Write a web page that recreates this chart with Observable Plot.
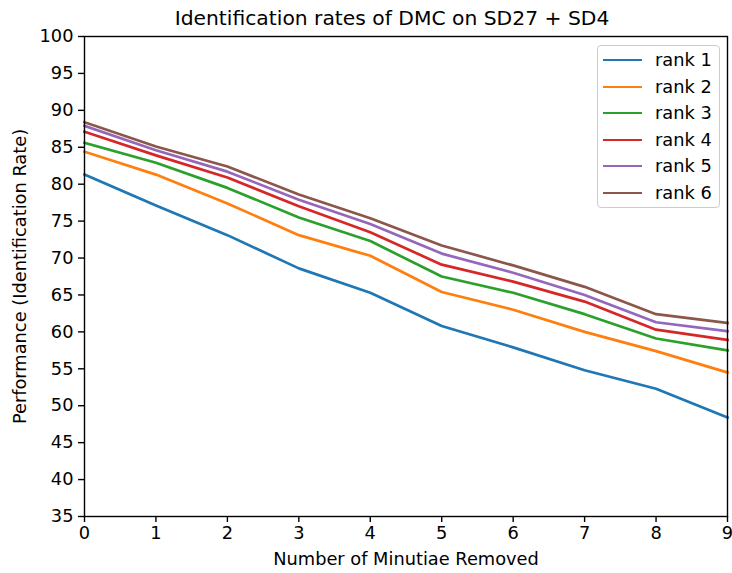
<!DOCTYPE html>
<html>
<head>
<meta charset="utf-8">
<script src="https://cdn.jsdelivr.net/npm/d3@7"></script>
<script src="https://cdn.jsdelivr.net/npm/@observablehq/plot@0.6"></script>
<style>
  html, body { margin: 0; padding: 0; background: #fff; }
  #wrap { position: relative; width: 732px; height: 573px; font-family: "DejaVu Sans", sans-serif; overflow: hidden; }
  #chart { position: absolute; left: 0; top: 0; }
  #title { position: absolute; left: 0; top: 0; width: 784px; height: 34px; line-height: 36px; text-align: center; font-size: 20.3px; color: #000; }
  #legend { position: absolute; left: 597px; top: 45px; width: 123px; height: 163px; border: 1px solid #ccc; border-radius: 4px; background: rgba(255,255,255,0.8); box-sizing: border-box; }
  .row { position: absolute; left: 0; height: 22px; }
  .row .sw { position: absolute; left: 5px; top: 10px; width: 39px; height: 0; border-top: 2.7px solid; }
  .row .lb { position: absolute; left: 57px; top: 0; font-size: 17.8px; line-height: 22px; white-space: nowrap; color: #000; }
</style>
</head>
<body>
<div id="wrap">
  <div id="chart"></div>
  <div id="title">Identification rates of DMC on SD27 + SD4</div>
  <div id="legend"></div>
</div>
<script>
const removed = [0, 1, 2, 3, 4, 5, 6, 7, 8, 9];
const seriesNames = ["rank 1", "rank 2", "rank 3", "rank 4", "rank 5", "rank 6"];
const rank1 = [81.3, 77.1, 73.1, 68.6, 65.3, 60.8, 57.9, 54.8, 52.3, 48.4];
const rank2 = [84.4, 81.3, 77.4, 73.1, 70.3, 65.4, 63.0, 60.0, 57.4, 54.5];
const rank3 = [85.6, 82.9, 79.5, 75.5, 72.3, 67.5, 65.3, 62.4, 59.1, 57.5];
const rank4 = [87.1, 83.9, 80.9, 77.0, 73.5, 69.1, 66.8, 64.1, 60.3, 58.9];
const rank5 = [87.9, 84.6, 81.7, 77.9, 74.6, 70.6, 68.0, 65.0, 61.3, 60.1];
const rank6 = [88.4, 85.1, 82.4, 78.6, 75.4, 71.7, 69.0, 66.1, 62.4, 61.2];
const colors = ["#1f77b4", "#ff7f0e", "#2ca02c", "#d62728", "#9467bd", "#8c564b"];
const xTicks = [0, 1, 2, 3, 4, 5, 6, 7, 8, 9];
const yTicks = [35, 40, 45, 50, 55, 60, 65, 70, 75, 80, 85, 90, 95, 100];

const allSeries = [rank1, rank2, rank3, rank4, rank5, rank6];
const data = [];
allSeries.forEach((vals, i) => vals.forEach((v, j) => data.push({x: removed[j], y: v, s: seriesNames[i]})));

const FS = 17.8;
const chart = Plot.plot({
  width: 732,
  height: 573,
  marginLeft: 84,
  marginRight: 5,
  marginTop: 36,
  marginBottom: 57,
  style: { fontFamily: "DejaVu Sans, sans-serif", fontSize: FS + "px", color: "#000", background: "#fff", overflow: "visible" },
  x: { domain: [0, 9], ticks: xTicks, tickFormat: d => String(d), label: null },
  y: { domain: [35, 100], ticks: yTicks, tickFormat: d => String(d), label: null },
  color: { domain: seriesNames, range: colors },
  marks: [
    Plot.line(data, { x: "x", y: "y", z: "s", stroke: "s", strokeWidth: 2.7, strokeLinejoin: "round", strokeLinecap: "square" }),
    Plot.frame({ stroke: "#000", strokeWidth: 1.4 }),
    Plot.axisX({ ticks: xTicks, tickSize: 6, tickPadding: 4, tickFormat: d => String(d), label: null, fontSize: FS, strokeWidth: 1.4 }),
    Plot.axisY({ ticks: yTicks, tickSize: 6, tickPadding: 5, tickFormat: d => String(d), label: null, fontSize: FS, strokeWidth: 1.4 }),
    Plot.text(["Number of Minutiae Removed"], { frameAnchor: "bottom", dy: 43, text: d => d, fontSize: FS, lineAnchor: "middle" }),
    Plot.text(["Performance (Identification Rate)"], { frameAnchor: "left", dx: -64, rotate: -90, text: d => d, fontSize: FS, lineAnchor: "middle", textAnchor: "middle" })
  ]
});
document.getElementById("chart").appendChild(chart);

const legend = document.getElementById("legend");
seriesNames.forEach((name, i) => {
  const row = document.createElement("div");
  row.className = "row";
  row.style.top = (3 + i * 26.5) + "px";
  const sw = document.createElement("div");
  sw.className = "sw";
  sw.style.borderTopColor = colors[i];
  const lb = document.createElement("div");
  lb.className = "lb";
  lb.textContent = name;
  row.appendChild(sw);
  row.appendChild(lb);
  legend.appendChild(row);
});
</script>
</body>
</html>
